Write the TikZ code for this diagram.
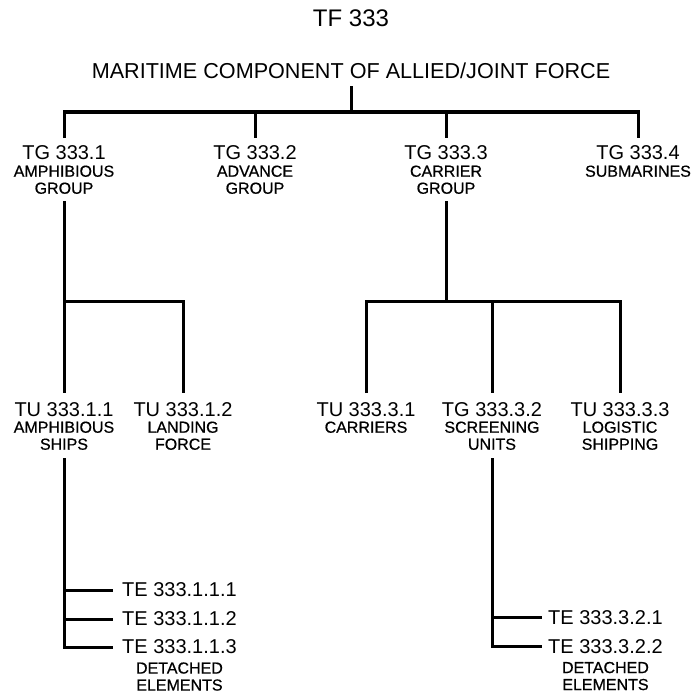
\documentclass[tikz,border=0pt]{standalone}
\usepackage{fontspec}
\setmainfont{Liberation Sans}
\newfontfamily\subfont[FakeBold=0.6]{Liberation Sans}
\usetikzlibrary{positioning}

\tikzset{
    head/.style={font=\fontsize{20}{20}\selectfont, inner sep=0pt, text depth=0pt},
    sub/.style={font=\subfont\fontsize{16}{17}\selectfont, inner sep=0pt, align=center},
    link/.style={line width=3pt},
}

\begin{document}
\begin{tikzpicture}[x=1pt,y=-1pt]
    \useasboundingbox (0,0) rectangle (694,693);
    \node[head, font=\fontsize{24}{24}\selectfont, anchor=north] (tf) at (351,10) {TF 333};
    \node[head, font=\fontsize{21.6}{22}\selectfont, anchor=north] (mcc) at (351,63) {MARITIME COMPONENT OF ALLIED/JOINT FORCE};
    % task groups
    \node[head, anchor=north] (tg1) at (64,145) {TG 333.1};
    \node[head, anchor=north] (tg2) at (255,145) {TG 333.2};
    \node[head, anchor=north] (tg3) at (446,145) {TG 333.3};
    \node[head, anchor=north] (tg4) at (638,145) {TG 333.4};
    \node[sub, below=6pt of tg1] (tg1s) {AMPHIBIOUS\\GROUP};
    \node[sub, below=6pt of tg2] (tg2s) {ADVANCE\\GROUP};
    \node[sub, below=6pt of tg3] (tg3s) {CARRIER\\GROUP};
    \node[sub, below=6pt of tg4] (tg4s) {SUBMARINES};
    % task units
    \node[head, anchor=north] (tu11) at (64,402) {TU 333.1.1};
    \node[head, anchor=north] (tu12) at (183,402) {TU 333.1.2};
    \node[head, anchor=north] (tu31) at (366,402) {TU 333.3.1};
    \node[head, anchor=north] (tu32) at (492,402) {TG 333.3.2};
    \node[head, anchor=north] (tu33) at (620,402) {TU 333.3.3};
    \node[sub, below=5pt of tu11] (tu11s) {AMPHIBIOUS\\SHIPS};
    \node[sub, below=5pt of tu12] (tu12s) {LANDING\\FORCE};
    \node[sub, below=5pt of tu31] (tu31s) {CARRIERS};
    \node[sub, below=5pt of tu32] (tu32s) {SCREENING\\UNITS};
    \node[sub, below=5pt of tu33] (tu33s) {LOGISTIC\\SHIPPING};
    % task elements
    \node[head, anchor=west] (te111) at (122,590) {TE 333.1.1.1};
    \node[head, anchor=west] (te112) at (122,619) {TE 333.1.1.2};
    \node[head, anchor=west] (te113) at (122,647) {TE 333.1.1.3};
    \node[sub, below=8pt of te113] (te113s) {DETACHED\\ELEMENTS};
    \node[head, anchor=west] (te321) at (548,617.5) {TE 333.3.2.1};
    \node[head, anchor=west] (te322) at (548,646.5) {TE 333.3.2.2};
    \node[sub, below=8pt of te322] (te322s) {DETACHED\\ELEMENTS};
    \coordinate (topbar) at (351,112);
    \coordinate (amphbar) at (64,301);
    \coordinate (carbar) at (446,301);
    % connectors
    \draw[link] ([yshift=-7pt]mcc.south) -- (topbar);
    \draw[link] ([yshift=7pt]tg1.north) |- (topbar) -| ([yshift=7pt]tg4.north);
    \draw[link] (tg2.north |- topbar) -- ([yshift=7pt]tg2.north);
    \draw[link] (tg3.north |- topbar) -- ([yshift=7pt]tg3.north);
    \draw[link] ([yshift=-7pt]tg1s.south) -- ([yshift=9pt]tu11.north);
    \draw[link] (amphbar) -| ([yshift=9pt]tu12.north);
    \draw[link] ([yshift=-7pt]tg3s.south) -- (carbar);
    \draw[link] ([yshift=9pt]tu31.north) |- (carbar) -| ([yshift=9pt]tu33.north);
    \draw[link] (tu32.north |- carbar) -- ([yshift=9pt]tu32.north);
    \draw[link] ([yshift=-8pt]tu11s.south) |- ([xshift=-9pt]te113.west);
    \draw[link] (tu11s.south |- te111.west) -- ([xshift=-9pt]te111.west);
    \draw[link] (tu11s.south |- te112.west) -- ([xshift=-9pt]te112.west);
    \draw[link] ([yshift=-8pt]tu32s.south) |- ([xshift=-6pt]te322.west);
    \draw[link] (tu32s.south |- te321.west) -- ([xshift=-6pt]te321.west);
\end{tikzpicture}
\end{document}
